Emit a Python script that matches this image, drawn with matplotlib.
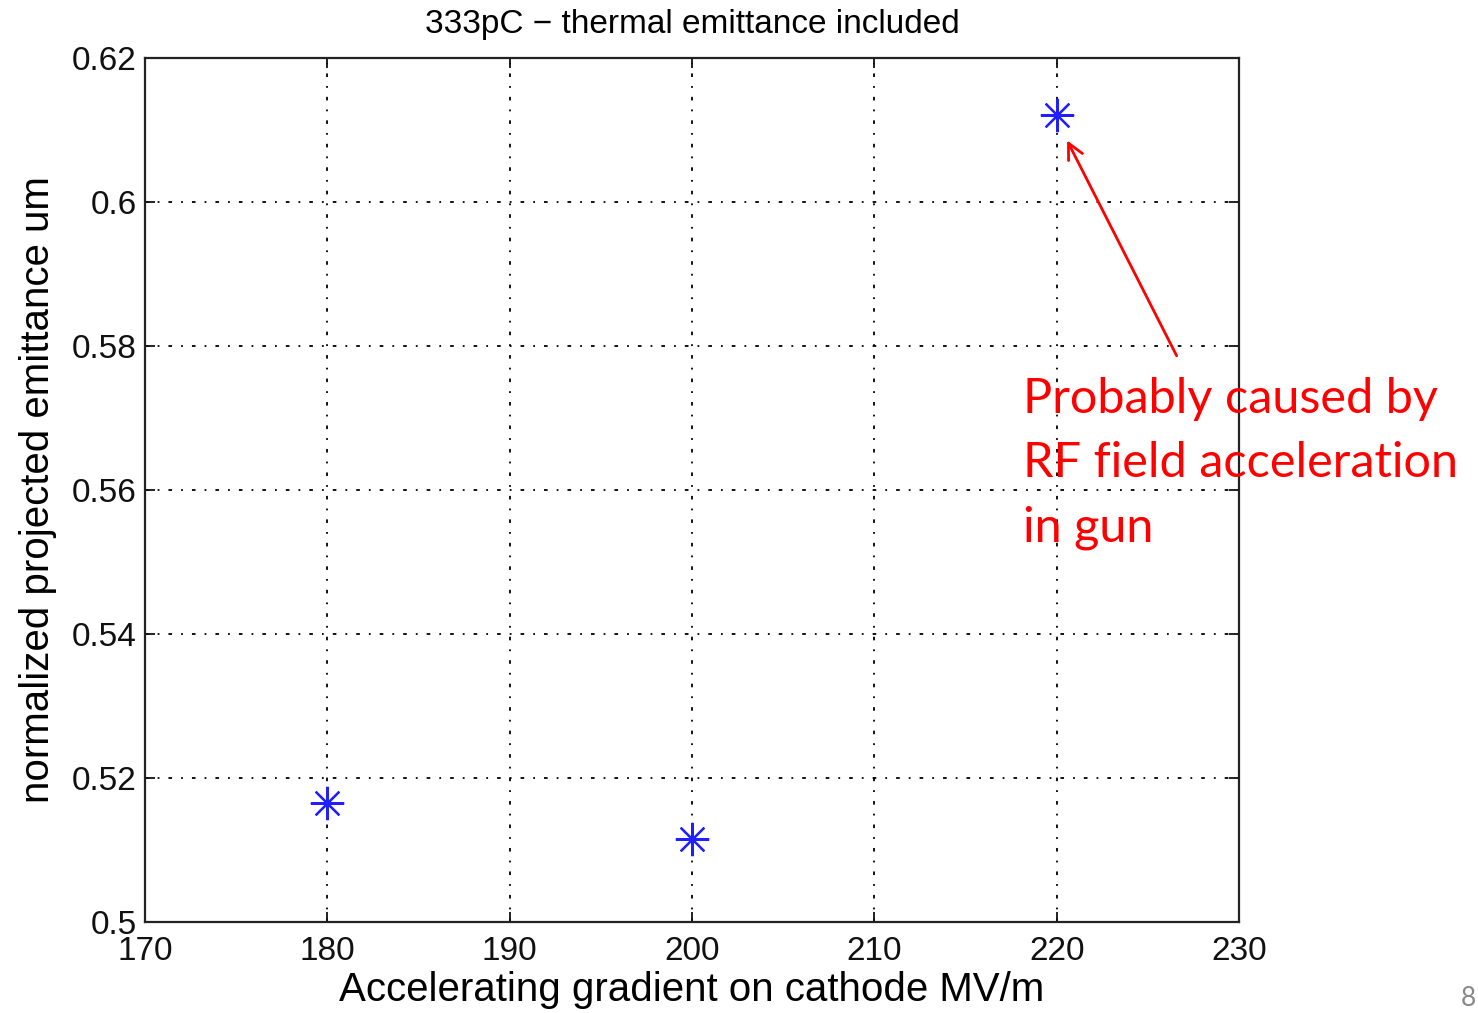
import matplotlib
matplotlib.use("Agg")
import matplotlib.pyplot as plt

gradient = [180, 200, 220]
emittance = [0.5165, 0.5115, 0.6121]
xticks = [170, 180, 190, 200, 210, 220, 230]
yticks = [0.5, 0.52, 0.54, 0.56, 0.58, 0.6, 0.62]
ytick_labels = ["0.5", "0.52", "0.54", "0.56", "0.58", "0.6", "0.62"]

plt.rcParams['font.family'] = ['Liberation Sans', 'DejaVu Sans']

fig = plt.figure(figsize=(14.78, 10.13), dpi=100)
ax = fig.add_axes([145/1478, 1-922/1013, (1239-145)/1478, (922-58)/1013])

ax.plot(gradient, emittance, linestyle='none', marker=(8, 2, 0), markersize=24,
        markeredgecolor='#2020ff', markeredgewidth=1.6, zorder=5)

ax.set_xlim(170, 230)
ax.set_ylim(0.5, 0.62)
ax.set_xticks(xticks)
ax.set_xticklabels([str(v) for v in xticks])
ax.set_yticks(yticks)
ax.set_yticklabels(ytick_labels)
ax.tick_params(direction='in', length=7, width=1.3, labelsize=24, colors='#111111',
               top=True, right=True, pad=6)
ax.tick_params(axis='x', pad=10)
for s in ax.spines.values():
    s.set_linewidth(1.6)
    s.set_color('#222222')
ax.grid(True, color='black', linestyle=(0, (2, 5, 1, 5)), linewidth=1.3)

ax.set_title("333pC \u2212 thermal emittance included", fontsize=24, pad=18)
ax.set_xlabel("Accelerating gradient on cathode MV/m", fontsize=29, labelpad=3)
ax.set_ylabel("normalized projected emittance um", fontsize=29, labelpad=11)

ax.annotate("", xy=(220.5, 0.6089), xytext=(226.65, 0.5783),
            arrowprops=dict(arrowstyle='->', color='red', lw=2, mutation_scale=28))

fig.text(1023/1478, 1-377/1013,
         "Probably caused by\nRF field acceleration\nin gun",
         color='red', fontsize=35, family=['Lato', 'DejaVu Sans'],
         ha='left', va='top', linespacing=1.56)

fig.text(1468/1478, 1-998/1013, "8", color='#888888', fontsize=19,
         family=['Lato', 'DejaVu Sans'], ha='center', va='center')

fig.savefig("out.png", dpi=100)
